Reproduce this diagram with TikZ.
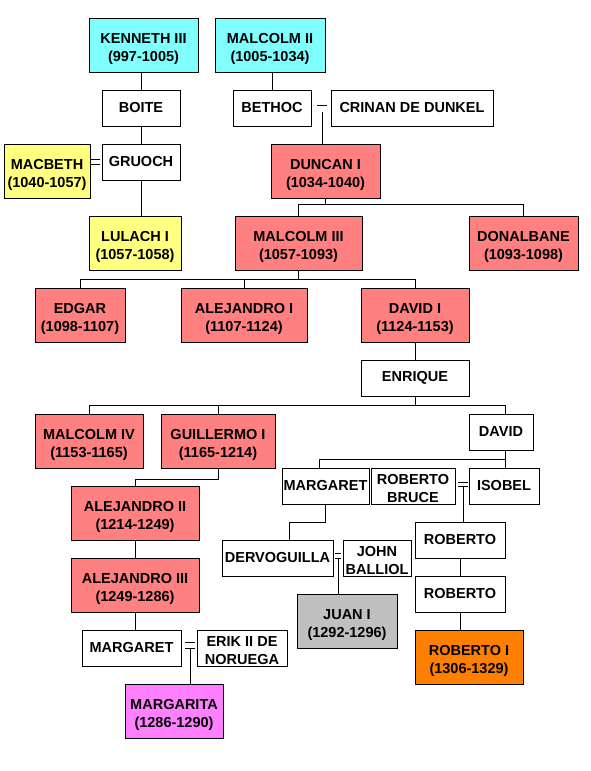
\documentclass[tikz,border=0pt]{standalone}
\usepackage{fontspec}
\setmainfont{Liberation Sans}
\usetikzlibrary{calc}
\definecolor{cy}{HTML}{80FFFF}
\definecolor{ye}{HTML}{FFFF80}
\definecolor{sa}{HTML}{FF8080}
\definecolor{gr}{HTML}{C0C0C0}
\definecolor{orng}{HTML}{FF8000}
\definecolor{mg}{HTML}{FF80FF}
\begin{document}
\begin{tikzpicture}[x=1pt,y=-1pt,
  box/.style={draw=black, line width=0.8pt, fill=white, inner sep=0.5pt, align=center,
    font=\fontsize{14.5}{18}\selectfont\bfseries},
  two/.style={text height=32.6pt, text depth=0pt},
  sz/.style 2 args={minimum width=#1pt, minimum height=#2pt},
  conn/.style={line width=0.8pt},
  wed/.style={line width=0.8pt, double, double distance=#1},
  wed/.default=4pt]
\useasboundingbox (0,0) rectangle (590,771);

% nodes
\node[box, two, fill=cy, sz={109}{54}] (kenneth) at (143.5,45) {KENNETH III\\(997-1005)};
\node[box, two, fill=cy, sz={110}{54}] (malcolm2) at (270,45) {MALCOLM II\\(1005-1034)};
\node[box, sz={78}{36}] (boite) at (141,108) {BOITE};
\node[box, sz={78}{36}] (bethoc) at (272,108) {BETHOC};
\node[box, sz={162}{36}] (crinan) at (412,108) {CRINAN DE DUNKEL};
\node[box, two, fill=ye, sz={86}{54}] (macbeth) at (47,171) {MACBETH\\(1040-1057)};
\node[box, sz={78}{36}] (gruoch) at (141,162) {GRUOCH};
\node[box, two, fill=sa, sz={109}{54}] (duncan) at (325.5,171) {DUNCAN I\\(1034-1040)};
\node[box, two, fill=ye, sz={92}{54}] (lulach) at (135,243) {LULACH I\\(1057-1058)};
\node[box, two, fill=sa, sz={127}{54}] (malcolm3) at (298.5,243) {MALCOLM III\\(1057-1093)};
\node[box, two, fill=sa, sz={109}{54}] (donalbane) at (523.5,243) {DONALBANE\\(1093-1098)};
\node[box, two, fill=sa, sz={90}{54}] (edgar) at (80,315) {EDGAR\\(1098-1107)};
\node[box, two, fill=sa, sz={126}{54}] (alejandro1) at (244,315) {ALEJANDRO I\\(1107-1124)};
\node[box, two, fill=sa, sz={108}{54}] (david1) at (415,315) {DAVID I\\(1124-1153)};
\node[box, sz={108}{36}] (enrique) at (415,378) {ENRIQUE};
\node[box, two, fill=sa, sz={108}{54}] (malcolm4) at (89,441) {MALCOLM IV\\(1153-1165)};
\node[box, two, fill=sa, sz={114}{54}] (guillermo) at (218,441) {GUILLERMO I\\(1165-1214)};
\node[box, sz={64}{36}] (david) at (501,432) {DAVID};
\node[box, sz={87}{36}] (margaret2) at (325.5,486) {MARGARET};
\node[box, two, sz={84}{36}] (robertobruce) at (413,486) {ROBERTO\\BRUCE};
\node[box, sz={70}{36}] (isobel) at (504,486) {ISOBEL};
\node[box, two, fill=sa, sz={128}{54}] (alejandro2) at (135,513) {ALEJANDRO II\\(1214-1249)};
\node[box, sz={90}{36}] (roberto1) at (460,540) {ROBERTO};
\node[box, sz={111}{36}] (dervoguilla) at (277.5,558) {DERVOGUILLA};
\node[box, two, sz={68}{36}] (johnballiol) at (377,558) {JOHN\\BALLIOL};
\node[box, two, fill=sa, sz={128}{54}] (alejandro3) at (135,585) {ALEJANDRO III\\(1249-1286)};
\node[box, sz={90}{36}] (roberto2) at (460,594) {ROBERTO};
\node[box, two, fill=gr, sz={100}{54}] (juan) at (347,621) {JUAN I\\(1292-1296)};
\node[box, sz={99}{36}] (margaret3) at (131.5,648) {MARGARET};
\node[box, two, sz={90}{36}] (erik) at (242,648) {ERIK II DE\\NORUEGA};
\node[box, two, fill=orng, sz={108}{54}] (robertoI) at (469,657) {ROBERTO I\\(1306-1329)};
\node[box, two, fill=mg, sz={98}{54}] (margarita) at (174,711) {MARGARITA\\(1286-1290)};

% connectors
\draw[conn] (kenneth.south -| boite.north) -- (boite.north);
\draw[conn] (boite.south) -- (gruoch.north);
\draw[conn] (gruoch.south) -- (gruoch.south |- lulach.north);
\draw[wed=4pt, shorten >=1pt, shorten <=2pt] (gruoch.west) -- (gruoch.west -| macbeth.east);

\draw[conn] (malcolm2.south -| bethoc.north) -- (bethoc.north);
\coordinate (m1) at ($(bethoc.east)!0.5!(crinan.west)+(1,0.5)$);
\draw[wed=6pt] ($(m1)+(-5,0)$) -- ($(m1)+(5,0)$);
\draw[conn] ($(m1)+(0,3.5)$) -- (m1 |- duncan.north);

\coordinate (b1) at ($(duncan.south)+(0,6)$);
\draw[conn] (duncan.south) -- (b1);
\draw[conn] (malcolm3.north) |- (b1) -| (donalbane.north);

\coordinate (b2) at ($(malcolm3.south)+(0,9)$);
\draw[conn] (malcolm3.south) -- (b2);
\draw[conn] (edgar.north) |- (b2) -| (david1.north);
\draw[conn] (alejandro1.north) -- (alejandro1.north |- b2);

\draw[conn] (david1.south) -- (enrique.north);
\coordinate (b3) at ($(enrique.south)+(0,9)$);
\coordinate (dvt) at ($(david.north)+(4,0)$);
\draw[conn] (enrique.south) -- (b3);
\draw[conn] (malcolm4.north) |- (b3) -| (dvt);
\draw[conn] (guillermo.north) -- (guillermo.north |- b3);

\coordinate (dvb) at ($(david.south)+(4,0)$);
\coordinate (b4) at ($(dvb)+(0,9)$);
\coordinate (mg2t) at ($(margaret2.north)+(-6.5,0)$);
\draw[conn] (dvb) -- (dvb |- isobel.north);
\draw[conn] (mg2t) |- (b4);

\coordinate (m2) at ($(robertobruce.east)!0.5!(isobel.west)+(1,-1.5)$);
\draw[wed=2.5pt] ($(m2)+(-5,0)$) -- ($(m2)+(5,0)$);
\draw[conn] ($(m2)+(0,1.7)$) -- (m2 |- roberto1.north);
\draw[conn] (roberto1.south) -- (roberto2.north);
\draw[conn] (roberto2.south) -- (roberto2.south |- robertoI.north);

\draw[conn] (guillermo.south) -- ++(0,11) -| (alejandro2.north);
\draw[conn] (alejandro2.south) -- (alejandro3.north);
\draw[conn] (alejandro3.south) -- (alejandro3.south |- margaret3.north);

\coordinate (m3) at ($(margaret3.east)!0.5!(erik.west)+(1,-2.5)$);
\draw[wed=4.5pt] ($(m3)+(-5,0)$) -- ($(m3)+(5,0)$);
\draw[conn] ($(m3)+(0,2.7)$) -- (m3 |- margarita.north);

\draw[conn] (margaret2.south) -- ++(0,18) -| ($(dervoguilla.north)+(11.5,0)$);
\coordinate (m4) at ($(dervoguilla.east)!0.5!(johnballiol.west)+(0,-2)$);
\draw[wed=3.5pt] ($(m4)+(-3,0)$) -- ($(m4)+(3,0)$);
\draw[conn] ($(m4)+(0,2.2)$) -- (m4 |- juan.north);
\end{tikzpicture}
\end{document}
